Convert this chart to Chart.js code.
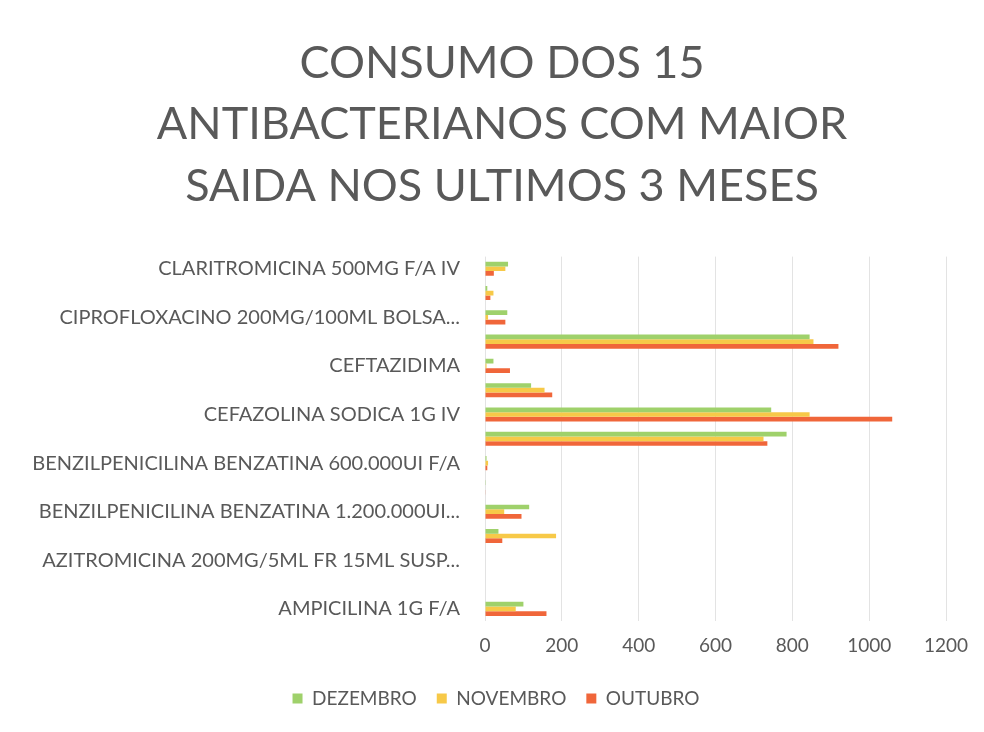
<!DOCTYPE html>
<html lang="pt">
<head>
<meta charset="utf-8">
<title>Consumo de antibacterianos</title>
<script src="https://cdn.jsdelivr.net/npm/chart.js@4.4.1/dist/chart.umd.min.js"></script>
<style>
  html, body { margin: 0; padding: 0; background: #ffffff; }
  #wrap { width: 984px; height: 732px; position: relative; }
</style>
</head>
<body>
<div id="wrap"><canvas id="chart" width="984" height="732"></canvas></div>
<script>
// Products in sheet order (bottom of the axis first)
const PRODUCTS = [
  "AMPICILINA 1G F/A",
  "AMPICILINA 500MG F/A",
  "AZITROMICINA 200MG/5ML FR 15ML SUSP...",
  "AZITROMICINA 500MG COMP",
  "BENZILPENICILINA BENZATINA 1.200.000UI...",
  "BENZILPENICILINA BENZATINA 2.400.000UI F/A",
  "BENZILPENICILINA BENZATINA 600.000UI F/A",
  "BENZILPENICILINA POTASSICA 5.000.000UI F/A",
  "CEFAZOLINA SODICA 1G IV",
  "CEFOTAXIMA 1G F/A",
  "CEFTAZIDIMA",
  "CEFTRIAXONA 1G F/A IV",
  "CIPROFLOXACINO 200MG/100ML BOLSA...",
  "CIPROFLOXACINO 500MG COMP",
  "CLARITROMICINA 500MG F/A IV",
];

const DEZEMBRO = [100, 0, 0, 35, 115, 2, 4, 785, 745, 120, 22, 845, 58, 6, 60];
const NOVEMBRO = [80, 0, 0, 185, 50, 0, 8, 725, 845, 155, 4, 855, 8, 22, 53];
const OUTUBRO  = [160, 0, 0, 45, 95, 1, 6, 735, 1060, 175, 65, 920, 53, 14, 23];

const X_MAX = 1200;
const X_STEP = 200;

const TITLE_LINES = [
  "CONSUMO DOS 15",
  "ANTIBACTERIANOS COM MAIOR",
  "SAIDA NOS ULTIMOS 3 MESES",
];

const TEXT = "#595959";
const FONT = "Lato, 'Open Sans', sans-serif";

function series(label, data, color) {
  return {
    label,
    data,
    backgroundColor: color,
    borderWidth: 0,
    categoryPercentage: 0.58,
    barPercentage: 1.0,
  };
}

// title and legend sit centred on the whole sheet, not on the space left of the padding
const recentre = {
  id: "recentre",
  afterLayout(chart) {
    const shift = (box, dx) => { if (box) { box.left += dx; box.right += dx; } };
    shift(chart.titleBlock, 29);
    shift(chart.legend, 23);
  },
};

new Chart(document.getElementById("chart"), {
  type: "bar",
  data: {
    labels: PRODUCTS,
    datasets: [
      series("DEZEMBRO", DEZEMBRO, "#9fd16b"),
      series("NOVEMBRO", NOVEMBRO, "#f7c948"),
      series("OUTUBRO", OUTUBRO, "#f0663a"),
    ],
  },
  plugins: [recentre],
  options: {
    indexAxis: "y",
    responsive: false,
    animation: false,
    layout: { padding: { top: 33, right: 38, bottom: 14, left: 0 } },
    plugins: {
      title: {
        display: true,
        text: TITLE_LINES,
        color: TEXT,
        font: { family: FONT, size: 45, weight: "normal", lineHeight: 1.36 },
        padding: { top: 0, bottom: 40 },
      },
      legend: {
        position: "bottom",
        labels: {
          color: TEXT,
          font: { family: FONT, size: 19 },
          boxWidth: 10,
          boxHeight: 10,
          padding: 20,
        },
      },
      tooltip: { enabled: false },
    },
    scales: {
      x: {
        min: 0,
        max: X_MAX,
        ticks: {
          stepSize: X_STEP,
          color: TEXT,
          font: { family: FONT, size: 19 },
          padding: 13,
          maxRotation: 0,
          callback: (v) => String(v),
        },
        grid: { color: "#e3e3e3", drawTicks: false },
        border: { display: false },
        afterFit: (scale) => { scale.height = 48; },
      },
      y: {
        reverse: true,
        ticks: {
          autoSkip: false,
          color: TEXT,
          font: { family: FONT, size: 20 },
          padding: 17,
          // only every other product gets its name on the axis
          callback: function (v, i) {
            return i % 2 === 0 ? this.getLabelForValue(v) : "";
          },
        },
        grid: { display: false },
        border: { display: false },
        afterFit: (scale) => { scale.width = 485; },
      },
    },
  },
});
</script>
</body>
</html>
